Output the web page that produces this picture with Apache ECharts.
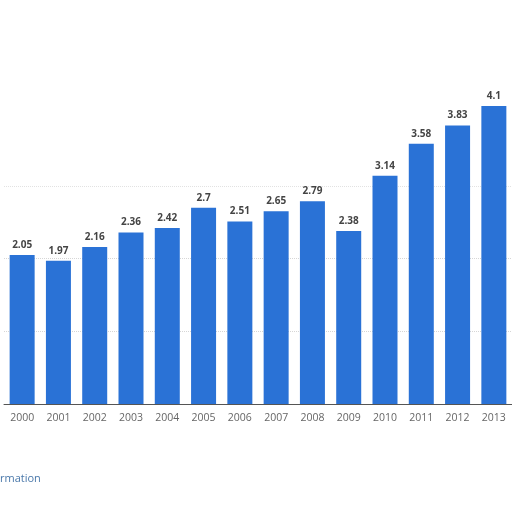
<!DOCTYPE html>
<html><head><meta charset="utf-8">
<script src="https://cdn.jsdelivr.net/npm/echarts@6/dist/echarts.min.js"></script>
<style>html,body{margin:0;padding:0;background:#fff}#c{width:512px;height:512px}</style>
</head><body><div id="c"></div>
<script>
const years = ['2000','2001','2002','2003','2004','2005','2006','2007','2008','2009','2010','2011','2012','2013'];
const values = [2.05,1.97,2.16,2.36,2.42,2.7,2.51,2.65,2.79,2.38,3.14,3.58,3.83,4.1];
const yTicks = [0,1,2,3,4,5];

const chart = echarts.init(document.getElementById('c'));
chart.setOption({
  animation:false,
  backgroundColor:'#ffffff',
  grid:{left:4,right:-13,top:40.5,bottom:108,containLabel:false},
  xAxis:{type:'category',data:years,
    axisLine:{lineStyle:{color:'#555',width:1}},
    axisTick:{show:false},
    axisLabel:{color:'#666',fontSize:10.5,fontFamily:'Open Sans',margin:9}},
  yAxis:{type:'value',min:yTicks[0],max:yTicks[yTicks.length-1],interval:1,
    axisLabel:{show:false},axisLine:{show:false},axisTick:{show:false},
    splitLine:{lineStyle:{color:['rgba(0,0,0,0)','#d6d6d6','#d6d6d6','#e2e2e2','rgba(0,0,0,0)','rgba(0,0,0,0)'],type:'dotted'}}},
  series:[{type:'bar',data:values,barWidth:25,
    itemStyle:{color:'#2a72d6'},
    label:{show:true,position:'top',distance:5,color:'#444',fontSize:10,fontWeight:'bold',fontFamily:'Open Sans'}}],
  graphic:[{type:'text',left:0,top:473,style:{text:'rmation',fill:'#4a78aa',font:'11px "Open Sans"'}}]
});
</script></body></html>
